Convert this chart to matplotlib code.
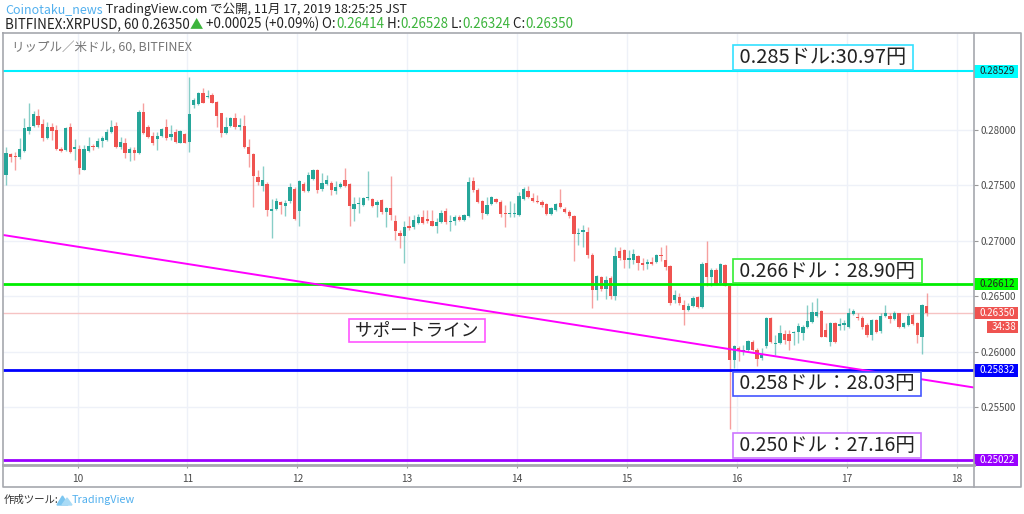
import numpy as np
import matplotlib
matplotlib.use('Agg')
import matplotlib.pyplot as plt
from matplotlib.patches import Rectangle
from matplotlib.transforms import blended_transform_factory

plt.rcParams['font.family'] = ['Noto Sans CJK JP', 'DejaVu Sans']

# ------------------------------------------------------------------ data
# hourly XRP/USD candles (BITFINEX, 60 min)
opens = [0.27596, 0.27785, 0.27767, 0.27755, 0.27815, 0.27992, 0.28040, 0.28127, 0.28055, 0.27926,
         0.28025, 0.28001, 0.27827, 0.27821, 0.28025, 0.27827, 0.27830, 0.27641, 0.27815, 0.27857,
         0.27845, 0.27905, 0.27911, 0.27986, 0.28037, 0.27845, 0.27881, 0.27791, 0.27821, 0.27791,
         0.28166, 0.28025, 0.27950, 0.27917, 0.27950, 0.28025, 0.27941, 0.27986, 0.27887, 0.27962,
         0.27896, 0.28226, 0.28235, 0.28337, 0.28295, 0.28316, 0.28256, 0.28151, 0.27971, 0.28037,
         0.28106, 0.28031, 0.28037, 0.27850, 0.27781, 0.27574, 0.27499, 0.27511, 0.27271, 0.27286,
         0.27346, 0.27316, 0.27355, 0.27469, 0.27265, 0.27514, 0.27451, 0.27559, 0.27640, 0.27466,
         0.27514, 0.27526, 0.27454, 0.27490, 0.27550, 0.27514, 0.27286, 0.27331, 0.27325, 0.27385,
         0.27379, 0.27322, 0.27370, 0.27256, 0.27295, 0.27181, 0.27070, 0.27040, 0.27130, 0.27124,
         0.27160, 0.27211, 0.27199, 0.27175, 0.27130, 0.27169, 0.27265, 0.27166, 0.27175, 0.27211,
         0.27184, 0.27220, 0.27544, 0.27460, 0.27355, 0.27244, 0.27333, 0.27375, 0.27354, 0.27255,
         0.27243, 0.27240, 0.27234, 0.27375, 0.27453, 0.27384, 0.27363, 0.27354, 0.27333, 0.27243,
         0.27279, 0.27339, 0.27288, 0.27264, 0.27228, 0.27063, 0.27078, 0.27084, 0.26874, 0.26559,
         0.26673, 0.26565, 0.26664, 0.26499, 0.26904, 0.26913, 0.26829, 0.26823, 0.26859, 0.26799,
         0.26793, 0.26805, 0.26805, 0.26871, 0.26829, 0.26775, 0.26463, 0.26493, 0.26424, 0.26379,
         0.26409, 0.26493, 0.26403, 0.26799, 0.26673, 0.26739, 0.26619, 0.26784, 0.26595, 0.25927,
         0.26032, 0.26002, 0.26011, 0.26092, 0.26017, 0.25942, 0.26047, 0.26302, 0.26071, 0.26077,
         0.26161, 0.26161, 0.26167, 0.26176, 0.26167, 0.26221, 0.26272, 0.26323, 0.26371, 0.26197,
         0.26092, 0.26257, 0.26233, 0.26242, 0.26227, 0.26341, 0.26317, 0.26302, 0.26242, 0.26152,
         0.26287, 0.26191, 0.26323, 0.26323, 0.26293, 0.26347, 0.26227, 0.26242, 0.26332, 0.26257,
         0.26137, 0.26414]
highs = [0.27851, 0.27797, 0.27806, 0.27926, 0.28106, 0.28241, 0.28175, 0.28187, 0.28097, 0.28076,
         0.28061, 0.28046, 0.27851, 0.28031, 0.28061, 0.27917, 0.27866, 0.27866, 0.27935, 0.27875,
         0.27932, 0.27947, 0.28007, 0.28091, 0.28076, 0.27941, 0.27926, 0.27851, 0.27845, 0.28181,
         0.28241, 0.28046, 0.27986, 0.27986, 0.28016, 0.28100, 0.28046, 0.28007, 0.28001, 0.27971,
         0.28481, 0.28286, 0.28346, 0.28376, 0.28361, 0.28331, 0.28265, 0.28157, 0.28121, 0.28121,
         0.28151, 0.28106, 0.28136, 0.27919, 0.27796, 0.27640, 0.27676, 0.27535, 0.27379, 0.27385,
         0.27355, 0.27370, 0.27526, 0.27490, 0.27550, 0.27535, 0.27625, 0.27646, 0.27649, 0.27610,
         0.27595, 0.27541, 0.27541, 0.27535, 0.27661, 0.27520, 0.27394, 0.27394, 0.27394, 0.27634,
         0.27391, 0.27370, 0.27379, 0.27304, 0.27586, 0.27235, 0.27100, 0.27175, 0.27220, 0.27235,
         0.27244, 0.27280, 0.27280, 0.27280, 0.27205, 0.27274, 0.27295, 0.27235, 0.27235, 0.27235,
         0.27244, 0.27580, 0.27580, 0.27475, 0.27370, 0.27400, 0.27405, 0.27384, 0.27369, 0.27324,
         0.27363, 0.27345, 0.27444, 0.27483, 0.27495, 0.27429, 0.27414, 0.27369, 0.27339, 0.27303,
         0.27339, 0.27468, 0.27303, 0.27279, 0.27234, 0.27114, 0.27144, 0.27129, 0.26889, 0.26694,
         0.26679, 0.26685, 0.26679, 0.26943, 0.26943, 0.26925, 0.26919, 0.26925, 0.26874, 0.26844,
         0.26835, 0.26853, 0.26883, 0.26943, 0.26964, 0.26784, 0.26559, 0.26529, 0.26469, 0.26439,
         0.26499, 0.26505, 0.26805, 0.27003, 0.26754, 0.26754, 0.26799, 0.26793, 0.26604, 0.26062,
         0.26047, 0.26062, 0.26107, 0.26107, 0.26032, 0.26032, 0.26311, 0.26311, 0.26152, 0.26242,
         0.26197, 0.26197, 0.26191, 0.26257, 0.26242, 0.26422, 0.26452, 0.26482, 0.26377, 0.26257,
         0.26272, 0.26272, 0.26302, 0.26287, 0.26392, 0.26383, 0.26347, 0.26323, 0.26257, 0.26293,
         0.26293, 0.26347, 0.26422, 0.26347, 0.26371, 0.26353, 0.26272, 0.26347, 0.26347, 0.26272,
         0.26431, 0.26528]
lows = [0.27506, 0.27707, 0.27641, 0.27737, 0.27806, 0.27962, 0.28031, 0.28031, 0.27905, 0.27917,
        0.27911, 0.27821, 0.27806, 0.27815, 0.27791, 0.27731, 0.27605, 0.27635, 0.27806, 0.27821,
        0.27836, 0.27845, 0.27905, 0.27977, 0.27836, 0.27833, 0.27746, 0.27716, 0.27731, 0.27785,
        0.27965, 0.27926, 0.27866, 0.27821, 0.27941, 0.27911, 0.27911, 0.27887, 0.27881, 0.27881,
        0.27806, 0.28196, 0.28226, 0.28241, 0.28286, 0.28241, 0.28031, 0.27941, 0.27965, 0.28025,
        0.28007, 0.28001, 0.27836, 0.27670, 0.27301, 0.27505, 0.27454, 0.27220, 0.27025, 0.27274,
        0.27241, 0.27226, 0.27340, 0.27184, 0.27136, 0.27445, 0.27445, 0.27550, 0.27430, 0.27454,
        0.27505, 0.27415, 0.27424, 0.27481, 0.27490, 0.27130, 0.27175, 0.27250, 0.27316, 0.27370,
        0.27304, 0.27214, 0.27244, 0.27124, 0.27190, 0.27010, 0.26935, 0.26800, 0.27100, 0.27106,
        0.27154, 0.27154, 0.27160, 0.27130, 0.27070, 0.27160, 0.27154, 0.27091, 0.27145, 0.27175,
        0.27175, 0.27214, 0.27445, 0.27340, 0.27199, 0.27235, 0.27324, 0.27339, 0.27219, 0.27129,
        0.27219, 0.27219, 0.27228, 0.27369, 0.27384, 0.27354, 0.27339, 0.27303, 0.27234, 0.27234,
        0.27273, 0.27294, 0.27249, 0.27204, 0.26814, 0.26964, 0.26949, 0.26844, 0.26394, 0.26463,
        0.26544, 0.26475, 0.26475, 0.26463, 0.26829, 0.26754, 0.26754, 0.26793, 0.26739, 0.26739,
        0.26745, 0.26784, 0.26799, 0.26814, 0.26739, 0.26424, 0.26439, 0.26424, 0.26244, 0.26364,
        0.26403, 0.26394, 0.26394, 0.26589, 0.26589, 0.26604, 0.26604, 0.26589, 0.25305, 0.25852,
        0.25912, 0.25972, 0.26002, 0.26002, 0.25873, 0.25921, 0.26032, 0.26077, 0.25972, 0.26071,
        0.26071, 0.26011, 0.26062, 0.26083, 0.26107, 0.26212, 0.26257, 0.26311, 0.26131, 0.26131,
        0.26047, 0.26077, 0.26197, 0.26197, 0.26212, 0.26332, 0.26287, 0.26203, 0.26137, 0.26107,
        0.26167, 0.26173, 0.26311, 0.26257, 0.26287, 0.26212, 0.26212, 0.26233, 0.26242, 0.26077,
        0.25981, 0.26324]
closes = [0.27791, 0.27755, 0.27752, 0.27827, 0.28016, 0.28025, 0.28142, 0.28046, 0.27926, 0.28031,
          0.27989, 0.27827, 0.27815, 0.28016, 0.27800, 0.27845, 0.27656, 0.27830, 0.27857, 0.27845,
          0.27905, 0.27926, 0.27986, 0.28031, 0.27845, 0.27890, 0.27797, 0.27830, 0.27797, 0.28160,
          0.27971, 0.27941, 0.27881, 0.27947, 0.28010, 0.27926, 0.27962, 0.27896, 0.27995, 0.27887,
          0.28142, 0.28271, 0.28337, 0.28247, 0.28307, 0.28247, 0.28130, 0.27971, 0.28025, 0.28106,
          0.28031, 0.28046, 0.27851, 0.27781, 0.27586, 0.27529, 0.27550, 0.27280, 0.27286, 0.27355,
          0.27325, 0.27340, 0.27490, 0.27196, 0.27544, 0.27454, 0.27595, 0.27640, 0.27460, 0.27520,
          0.27550, 0.27460, 0.27484, 0.27514, 0.27499, 0.27316, 0.27331, 0.27340, 0.27385, 0.27400,
          0.27316, 0.27346, 0.27256, 0.27295, 0.27235, 0.27091, 0.27040, 0.27124, 0.27112, 0.27190,
          0.27211, 0.27160, 0.27175, 0.27136, 0.27166, 0.27250, 0.27166, 0.27175, 0.27214, 0.27184,
          0.27235, 0.27535, 0.27460, 0.27349, 0.27250, 0.27325, 0.27393, 0.27354, 0.27243, 0.27240,
          0.27255, 0.27255, 0.27405, 0.27465, 0.27393, 0.27363, 0.27351, 0.27324, 0.27240, 0.27294,
          0.27330, 0.27303, 0.27264, 0.27228, 0.27063, 0.27075, 0.27099, 0.26874, 0.26559, 0.26679,
          0.26568, 0.26649, 0.26499, 0.26859, 0.26844, 0.26829, 0.26844, 0.26880, 0.26799, 0.26784,
          0.26805, 0.26793, 0.26874, 0.26859, 0.26763, 0.26439, 0.26514, 0.26439, 0.26379, 0.26415,
          0.26484, 0.26403, 0.26790, 0.26673, 0.26733, 0.26613, 0.26790, 0.26595, 0.25925, 0.26047,
          0.26002, 0.26017, 0.26098, 0.26017, 0.25933, 0.25972, 0.26302, 0.26092, 0.26083, 0.26167,
          0.26107, 0.26101, 0.26182, 0.26233, 0.26227, 0.26278, 0.26362, 0.26362, 0.26137, 0.26137,
          0.26257, 0.26092, 0.26248, 0.26257, 0.26347, 0.26371, 0.26302, 0.26227, 0.26152, 0.26287,
          0.26182, 0.26323, 0.26347, 0.26293, 0.26353, 0.26227, 0.26257, 0.26323, 0.26251, 0.26152,
          0.26422, 0.26350]
first_candle_day = 9.35          # November day of the first hourly candle
day_ticks = [10, 11, 12, 13, 14, 15, 16, 17, 18]
price_ticks = [0.255, 0.260, 0.265, 0.270, 0.275, 0.280]

level_prices = [0.28529, 0.26612, 0.25832, 0.25022]
level_texts = ['0.285ドル:30.97円', '0.266ドル：28.90円', '0.258ドル：28.03円', '0.250ドル：27.16円']
last_price = 0.26350
countdown = '34:38'
trend_days = [9.322, 18.157]
trend_prices = [0.27053, 0.25677]
support_text = 'サポートライン'

title_user = 'Coinotaku_news'
title_rest = ' TradingView.com で公開, 11月 17, 2019 18:25:25 JST'
symbol_text = 'BITFINEX:XRPUSD, 60 0.26350'
change_text = ' +0.00025 (+0.09%)'
ohlc_names = [' O:', ' H:', ' L:', ' C:']
ohlc_values = ['0.26414', '0.26528', '0.26324', '0.26350']
legend_text = 'リップル／米ドル, 60, BITFINEX'
footer_text = '作成ツール:'
footer_brand = 'TradingView'

# ------------------------------------------------------------------ styles
W, H = 1024, 514
AX_L, AX_T, AX_R, AX_B = 3, 33, 974, 464
UP, DOWN = '#26a69a', '#ef5350'
level_line_colors = ['#00f0ff', '#00ee00', '#0000ff', '#9900ff']
level_tag_colors = ['#00ffff', '#00ff00', '#0000ff', '#9900ff']
level_tag_text = ['#222222', '#222222', 'white', 'white']
level_box_edges = ['#33e0ff', '#33ee33', '#4455ff', '#cc77ff']
label_days = [15.985, 15.985, 15.985, 15.985]
label_prices = [0.28654, 0.26728, 0.25709, 0.25154]
label_sizes = [14.5, 14.0, 14.0, 14.0]
support_pos = (12.49, 0.26191)

fig = plt.figure(figsize=(W / 100, H / 100), dpi=100)
fig.patch.set_facecolor('white')


def px_rect(l, t, r, b):
    return [l / W, 1 - b / H, (r - l) / W, (b - t) / H]


ax = fig.add_axes(px_rect(AX_L, AX_T, AX_R, AX_B))
ax.set_xlim(9.322, 18.157)
ax.set_ylim(0.24987, 0.28875)
for s in ax.spines.values():
    s.set_visible(False)

ax.set_xticks(day_ticks)
ax.set_xticklabels([str(d) for d in day_ticks])
ax.set_yticks(price_ticks)
ax.set_yticklabels(['%.5f' % p for p in price_ticks])
ax.yaxis.tick_right()
ax.tick_params(axis='y', length=3, width=0.8, color='#999999', labelsize=7,
               labelcolor='#4a4a4a', pad=2)
ax.tick_params(axis='x', length=3, width=0.8, color='#999999', labelsize=7.3,
               labelcolor='#4a4a4a', pad=4)
ax.grid(True, color='#eef1f8', lw=1)
ax.set_axisbelow(True)

# candles
o = np.array(opens)
h = np.array(highs)
l = np.array(lows)
c = np.array(closes)
t = first_candle_day + np.arange(len(o)) / 24.0
col = np.where(c >= o, UP, DOWN)
ax.vlines(t, l, h, colors=col, lw=1, alpha=0.55, zorder=3)
body_lo = np.minimum(o, c)
body_h = np.maximum(np.abs(c - o), 0.00004)
ax.bar(t, body_h, bottom=body_lo, width=0.72 / 24, color=col, lw=0, zorder=4)

# last price line
ax.axhline(last_price, color='#f6c3c3', lw=1, zorder=2)

# horizontal levels
lw_levels = [1.5, 2, 2, 2]
for p, lc, lwv in zip(level_prices, level_line_colors, lw_levels):
    ax.axhline(p, color=lc, lw=lwv, zorder=5)

# trend line
ax.plot(trend_days, trend_prices, color='#ff00ff', lw=1.4, zorder=5)

# level annotations
for d, p, txt, ec, fs in zip(label_days, label_prices, level_texts, level_box_edges, label_sizes):
    ax.text(d, p, ' ' + txt + ' ', fontsize=fs, color='#222222', ha='left', va='center',
            zorder=6, bbox=dict(boxstyle='square,pad=0.1', fc='white', ec=ec, lw=1.2))
ax.text(support_pos[0], support_pos[1], ' ' + support_text + ' ', fontsize=12.7,
        color='#222222', ha='left', va='center', zorder=6,
        bbox=dict(boxstyle='square,pad=0.12', fc='white', ec='#ff55ff', lw=1.2))

# price-scale tags (rectangles in axes-x / data-y space)
btr = blended_transform_factory(ax.transAxes, ax.transData)
ax_w = AX_R - AX_L
ax_h = AX_B - AX_T
yr = ax.get_ylim()[1] - ax.get_ylim()[0]
tag_w = 44 / ax_w
tag_h = 12.5 / ax_h * yr


def price_tag(p, fc, tc, text, x0=1.0, w=tag_w, dy=0.0):
    y = p + dy
    ax.add_patch(Rectangle((x0, y - tag_h / 2), w, tag_h, transform=btr, fc=fc, ec='none',
                           clip_on=False, zorder=7))
    ax.text(x0 + w / 2 + 1.5 / ax_w, y, text, transform=btr, fontsize=7, color=tc,
            ha='center', va='center', zorder=8, clip_on=False)


for p, fc, tc in zip(level_prices, level_tag_colors, level_tag_text):
    price_tag(p, fc, tc, '%.5f' % p)
price_tag(last_price, DOWN, 'white', '%.5f' % last_price)
price_tag(last_price, DOWN, 'white', countdown, x0=1.0 + 13 / ax_w, w=31 / ax_w,
          dy=-14 / ax_h * yr)

# ------------------------------------------------------------------ overlay in pixel units
ov = fig.add_axes([0, 0, 1, 1], zorder=10)
ov.set_xlim(0, W)
ov.set_ylim(H, 0)
ov.axis('off')
ov.patch.set_alpha(0)

frame = '#a6a8ae'
ov.plot([3, 1021, 1021, 3, 3], [33, 33, 487, 487, 33], color=frame, lw=1.2)
ov.plot([974, 974], [33, 487], color=frame, lw=1.2)
ov.plot([3, 974], [464.5, 464.5], color=frame, lw=2)


def rainbow(x, y, parts, size):
    prev = ov.text(x, y, parts[0][0], color=parts[0][1], fontsize=size,
                   ha='left', va='center')
    for s, cc in parts[1:]:
        prev = ov.annotate(s, xy=(1, 0), xycoords=prev, va='bottom', ha='left',
                           color=cc, fontsize=size)


DARK = '#222222'
GREEN = '#3cb43c'
BLUE = '#52b0ee'
rainbow(5, 10, [(title_user, BLUE), (title_rest, DARK)], 9.0)
parts2 = [(symbol_text, DARK), ('▲', GREEN), (change_text, DARK)]
for n, v in zip(ohlc_names, ohlc_values):
    parts2 += [(n, DARK), (v, GREEN)]
rainbow(5, 24, parts2, 9.6)

ov.text(12, 47, legend_text, fontsize=9, color='#777777', ha='left', va='center')

ov.text(4, 500, footer_text, fontsize=7.5, color='#333333', ha='left', va='center')
ov.fill([57, 62.5, 68], [505, 496, 505], color='#7cc6f0')
ov.fill([62, 67, 72], [505, 498, 505], color='#a9dbf6')
ov.text(72, 500, footer_brand, fontsize=7.8, color=BLUE, ha='left', va='center')

fig.savefig('out.png', dpi=100, facecolor='white')
